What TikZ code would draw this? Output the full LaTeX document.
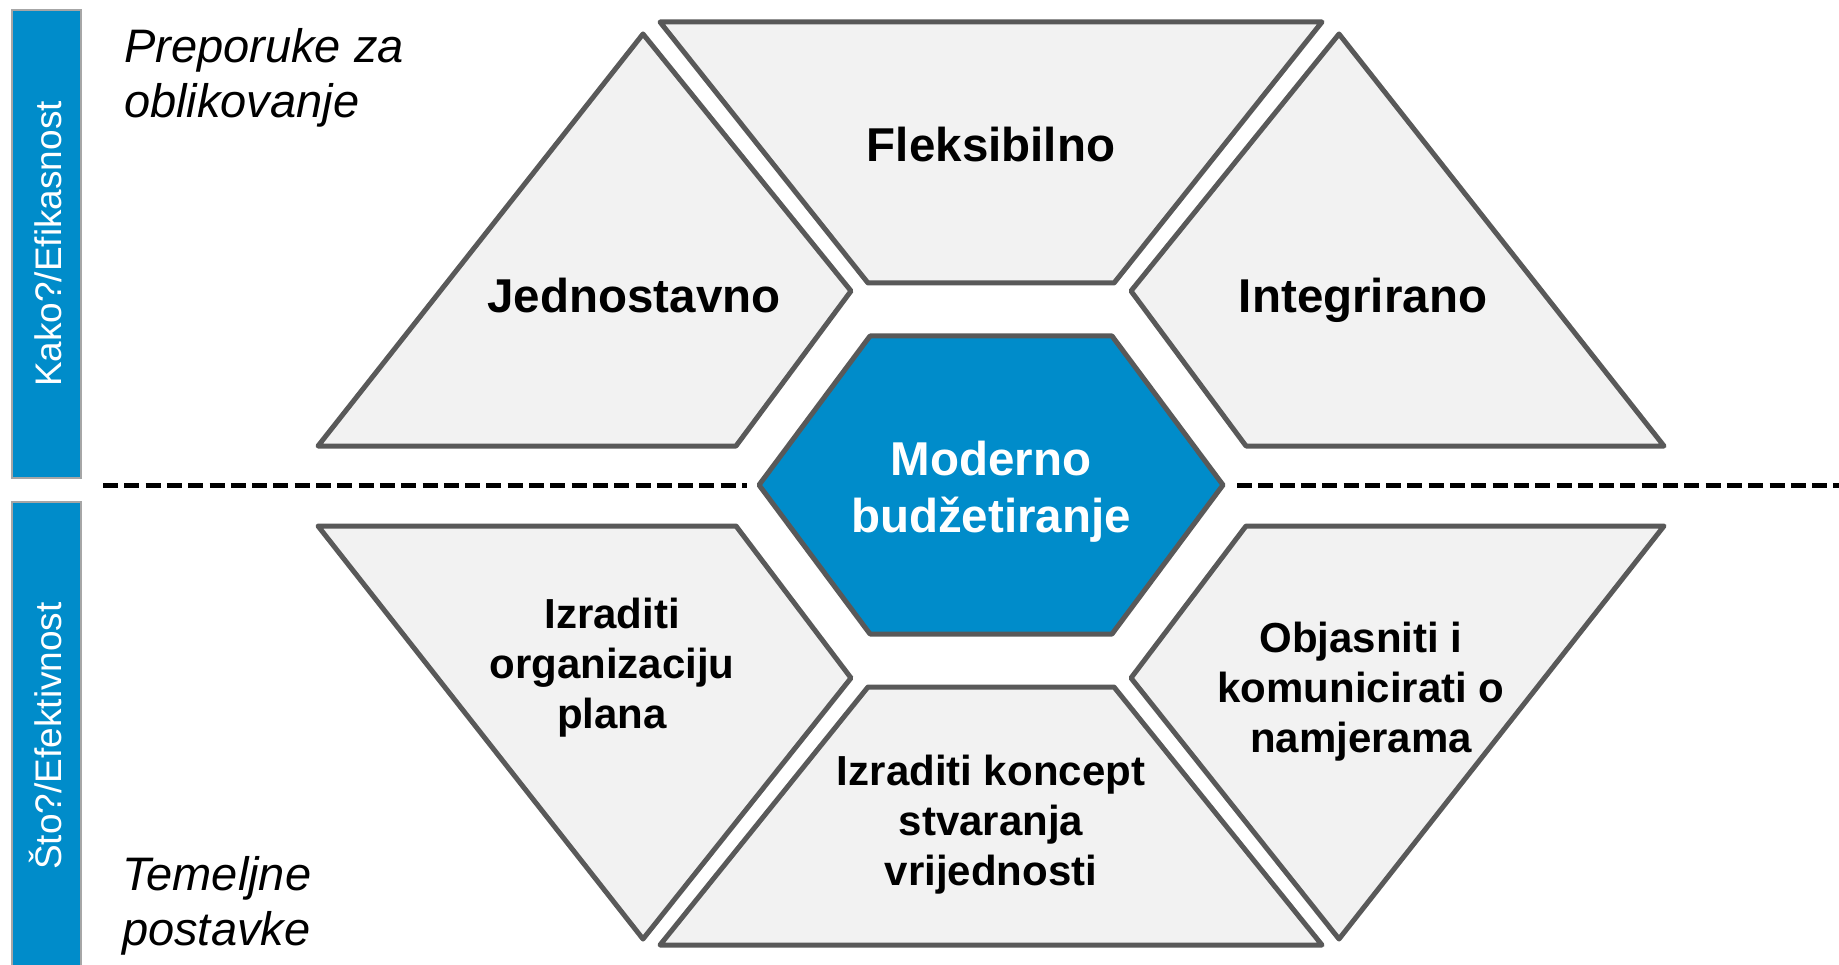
\documentclass[tikz,border=0pt]{standalone}
\usepackage{fontspec}
\setmainfont{Liberation Sans}

\definecolor{tilegray}{HTML}{F2F2F2}
\definecolor{edgegray}{HTML}{595959}
\definecolor{hubblue}{RGB}{0,140,202}
\definecolor{bargray}{HTML}{A6A6A6}

\tikzset{
  tile/.style={fill=tilegray, draw=edgegray, line width=5pt, line join=round},
  hubtile/.style={tile, fill=hubblue},
  sidebar/.style={fill=hubblue, draw=bargray, line width=1.8pt},
  headtxt/.style={font=\bfseries\fontsize{47.5}{57}\selectfont, inner sep=0pt, anchor=base},
  hubtxt/.style={font=\bfseries\fontsize{47.5}{57}\selectfont, inner sep=0pt, align=center, text=white},
  tiletxt/.style={font=\bfseries\fontsize{42}{50}\selectfont, inner sep=0pt, align=center},
  note/.style={font=\itshape\fontsize{47}{55}\selectfont, inner sep=0pt, align=left, anchor=north west},
  sidetxt/.style={font=\fontsize{37}{44}\selectfont, text=white, rotate=90, anchor=base, inner sep=0pt},
  divider/.style={line width=5pt, dash pattern=on 15pt off 6.3pt}
}

\begin{document}
\begin{tikzpicture}[x=1pt, y=-1pt]
\useasboundingbox (0,0) rectangle (1839,965);

% side bars
\draw[sidebar] (12,10) rectangle (81,478);
\draw[sidebar] (12,502) rectangle (81,985);
\node[sidetxt] (how) at (61,244) {Kako?/Efikasnost};
\node[sidetxt] (what) at (61,736) {Što?/Efektivnost};

% dashed divider between the two halves
\coordinate (dl0) at (103,485);
\coordinate (dl1) at (747,485);
\coordinate (dr0) at (1237,485);
\coordinate (dr1) at (1839,485);
\draw[divider] (dl0) -- (dl1);
\draw[divider] (dr0) -- (dr1);

% outer tiles, upper half
\draw[tile] (660,22) -- (1322,22) -- (1114,283) -- (868,283) -- cycle;
\draw[tile] (643,34) -- (851,291) -- (736,446) -- (318,446) -- cycle;
\draw[tile] (1339,34) -- (1131,291) -- (1246,446) -- (1664,446) -- cycle;

% outer tiles, lower half
\draw[tile] (318,526) -- (736,526) -- (851,678) -- (643,939) -- cycle;
\draw[tile] (868,687) -- (1114,687) -- (1322,945) -- (660,945) -- cycle;
\draw[tile] (1246,526) -- (1664,526) -- (1339,939) -- (1131,678) -- cycle;

% central hexagon
\draw[hubtile] (870,336) -- (1112,336) -- (1223,485) -- (1112,634) -- (870,634) -- (759,485) -- cycle;

% labels
\node[headtxt] (flex) at (991,162) {Fleksibilno};
\node[headtxt] (simple) at (634,313) {Jednostavno};
\node[headtxt] (integr) at (1363,313) {Integrirano};
\node[hubtxt] (hub) at (991,493) {\strut Moderno\\budžetiranje\strut};
\node[tiletxt] (org) at (612,668) {\strut Izraditi\\organizaciju\\plana\strut};
\node[tiletxt] (value) at (991,825) {\strut Izraditi koncept\\stvaranja\\vrijednosti\strut};
\node[tiletxt] (comm) at (1361,692) {\strut Objasniti i\\komunicirati o\\namjerama\strut};

% half titles
\node[note] (howtitle) at (124,23.5) {\strut Preporuke za\\oblikovanje};
\node[note] (whattitle) at (122,851.5) {\strut Temeljne\\postavke};
\end{tikzpicture}
\end{document}
